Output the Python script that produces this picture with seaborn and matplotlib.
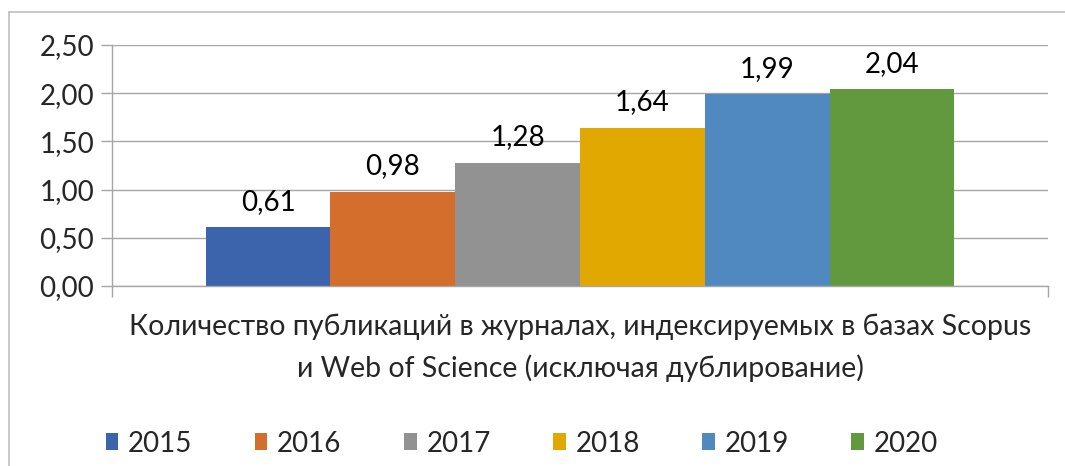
import matplotlib
matplotlib.use("Agg")
import matplotlib.pyplot as plt
import pandas as pd
import seaborn as sns
from matplotlib.lines import Line2D
from matplotlib.patches import Patch

years = ["2015", "2016", "2017", "2018", "2019", "2020"]
values = [0.61, 0.98, 1.28, 1.64, 1.99, 2.04]
colors = ["#3C64AC", "#D46E2C", "#929292", "#E0A800", "#4F89C0", "#62983E"]
category = "Количество публикаций в журналах, индексируемых в базах Scopus\nи Web of Science (исключая дублирование)"
yticks = [0.0, 0.5, 1.0, 1.5, 2.0, 2.5]

df = pd.DataFrame({"cat": [category] * len(years), "year": years, "value": values})

sns.set_style("white")
plt.rcParams["font.family"] = ["Lato", "DejaVu Sans"]
fs = 20

fig = plt.figure(figsize=(10.65, 4.66), dpi=100)
ax = fig.add_axes([0.1052, 0.3863, 0.8788, 0.5171])

sns.barplot(data=df, x="cat", y="value", hue="year", palette=colors,
            width=0.8, saturation=1, linewidth=0, ax=ax, legend=False)

for cont in ax.containers:
    ax.bar_label(cont, labels=[f"{v:.2f}".replace(".", ",") for v in cont.datavalues],
                 padding=9, fontsize=fs, color="#000000")

ax.set_xlim(-0.5, 0.5)
ax.set_ylim(0, 2.5)
ax.set_yticks(yticks)
ax.set_yticklabels([f"{t:.2f}".replace(".", ",") for t in yticks], fontsize=fs)
ax.yaxis.grid(True, color="#A6A6A6", linewidth=1.0)
ax.set_axisbelow(True)
ax.tick_params(axis="y", length=8, color="#A6A6A6", width=1.0, pad=5, left=True)
ax.tick_params(axis="x", which="major", length=0, labelsize=20.5, pad=20)
ax.set_xticks([-0.5, 0.5], minor=True)
ax.tick_params(axis="x", which="minor", length=8, color="#A6A6A6", width=1.0, bottom=True)
for t in ax.get_xticklabels():
    t.set_linespacing(1.65)
ax.set_xlabel("")
ax.set_ylabel("")
for s in ["top", "right"]:
    ax.spines[s].set_visible(False)
for s in ["left", "bottom"]:
    ax.spines[s].set_color("#A6A6A6")
    ax.spines[s].set_linewidth(1.0)

handles = [Patch(facecolor=c, edgecolor="none") for c in colors]
fig.legend(handles, years, loc="center", bbox_to_anchor=(0.49, 0.048), ncol=6,
           frameon=False, fontsize=fs, handlelength=0.45, handleheight=0.55,
           handletextpad=0.35, columnspacing=2.25)

# chart frame (cropped on the right and bottom)
fig.add_artist(Line2D([9 / 1065, 1], [1 - 12 / 466, 1 - 12 / 466], color="#BFBFBF", lw=1.2))
fig.add_artist(Line2D([9 / 1065, 9 / 1065], [0, 1 - 12 / 466], color="#BFBFBF", lw=1.2))

fig.savefig("out.png", dpi=100)
